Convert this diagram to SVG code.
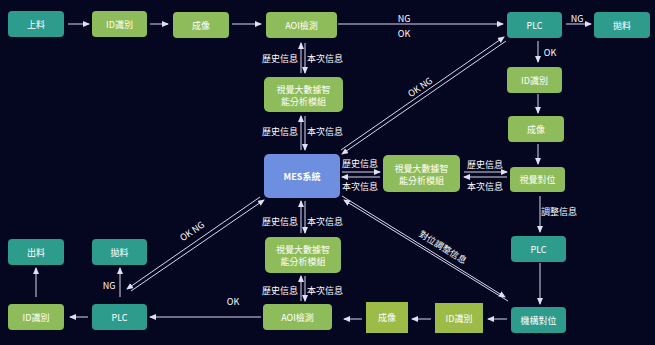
<svg xmlns="http://www.w3.org/2000/svg" width="655" height="345" viewBox="0 0 655 345">
<defs>
<marker id="ah" markerWidth="8" markerHeight="8" refX="6" refY="3" orient="auto" markerUnits="userSpaceOnUse">
<path d="M0,0 L7,3 L0,6 Z" fill="#e0e0f4"/>
</marker>
<style>
.teal{fill:#2e9c8d}
.green{fill:#8fbc5a}
.olive{fill:#9dbb47}
.blue{fill:#6e8fe0}
.t{font-family:"Noto Sans CJK TC","Open Sans",sans-serif;font-size:9px;fill:#ffffff;text-anchor:middle;dominant-baseline:central}
.lb{font-family:"Noto Sans CJK TC","Open Sans",sans-serif;font-size:9px;fill:#ffffff;text-anchor:middle;dominant-baseline:central}
.c line{stroke:#d8d8f0;stroke-width:1;fill:none}
.c .a{marker-end:url(#ah)}
</style>
</defs>
<rect width="655" height="345" fill="#05061f"/>

<g class="c" id="connectors">
<!-- top row -->
<line class="a" x1="68" y1="24" x2="89" y2="24"/>
<line class="a" x1="150" y1="24" x2="168" y2="24"/>
<line class="a" x1="232" y1="24" x2="261" y2="24"/>
<line class="a" x1="338" y1="24" x2="503" y2="24"/>
<line class="a" x1="566" y1="24" x2="591" y2="24"/>
<!-- right column -->
<line class="a" x1="538" y1="41" x2="538" y2="62"/>
<line class="a" x1="538" y1="94" x2="538" y2="113"/>
<line class="a" x1="538" y1="144" x2="538" y2="164"/>
<line class="a" x1="540" y1="196" x2="540" y2="232"/>
<line class="a" x1="540" y1="263" x2="540" y2="304"/>
<!-- bottom row -->
<line class="a" x1="507" y1="319" x2="488" y2="319"/>
<line class="a" x1="431" y1="319" x2="412" y2="319"/>
<line class="a" x1="362" y1="319" x2="344" y2="319"/>
<line class="a" x1="261" y1="317" x2="150" y2="317"/>
<line class="a" x1="88" y1="317" x2="70" y2="317"/>
<line class="a" x1="36" y1="297" x2="36" y2="268"/>
<line class="a" x1="120" y1="297" x2="120" y2="268"/>
<!-- vertical double arrows -->
<line class="a" x1="301" y1="73" x2="301" y2="43"/>
<line class="a" x1="305" y1="43" x2="305" y2="73"/>
<line class="a" x1="301" y1="150" x2="301" y2="116"/>
<line class="a" x1="305" y1="116" x2="305" y2="150"/>
<line class="a" x1="301" y1="233" x2="301" y2="201"/>
<line class="a" x1="305" y1="201" x2="305" y2="233"/>
<line class="a" x1="301" y1="301" x2="301" y2="276"/>
<line class="a" x1="305" y1="276" x2="305" y2="301"/>
<!-- horizontal double arrows -->
<line class="a" x1="342" y1="172" x2="380" y2="172"/>
<line class="a" x1="380" y1="177" x2="342" y2="177"/>
<line class="a" x1="464" y1="172" x2="507" y2="172"/>
<line class="a" x1="507" y1="177" x2="464" y2="177"/>
<!-- diagonals -->
<line class="a" x1="341" y1="150" x2="504" y2="37"/>
<line class="a" x1="506" y1="41" x2="342" y2="154"/>
<line class="a" x1="260" y1="197" x2="127" y2="289"/>
<line class="a" x1="131" y1="291" x2="264" y2="200"/>
<line class="a" x1="342" y1="196" x2="505" y2="297"/>
<line class="a" x1="508" y1="301" x2="344" y2="200"/>
</g>

<g id="labels">
<text class="lb" x="404" y="18">NG</text>
<text class="lb" x="404" y="33">OK</text>
<text class="lb" x="577" y="18">NG</text>
<text class="lb" x="550" y="52">OK</text>
<text class="lb" x="559" y="211">調整信息</text>
<text class="lb" x="233" y="301">OK</text>
<text class="lb" x="109" y="285">NG</text>
<text class="lb" x="280" y="58">歷史信息</text>
<text class="lb" x="325" y="58">本次信息</text>
<text class="lb" x="280" y="131">歷史信息</text>
<text class="lb" x="325" y="131">本次信息</text>
<text class="lb" x="280" y="221">歷史信息</text>
<text class="lb" x="325" y="221">本次信息</text>
<text class="lb" x="280" y="290">歷史信息</text>
<text class="lb" x="325" y="290">本次信息</text>
<text class="lb" x="360" y="163">歷史信息</text>
<text class="lb" x="360" y="186">本次信息</text>
<text class="lb" x="485" y="164">歷史信息</text>
<text class="lb" x="485" y="186">本次信息</text>
<text class="lb" x="420" y="87" transform="rotate(-34.6 420 87)">OK NG</text>
<text class="lb" x="192" y="231" transform="rotate(-34.5 192 231)">OK NG</text>
<text class="lb" x="443" y="247" transform="rotate(31.7 443 247)">對位調整信息</text>
</g>

<g id="n-shangliao"><rect class="teal" x="8" y="11" width="56" height="26" rx="4"/><text class="t" x="36" y="24">上料</text></g>
<g id="n-id1"><rect class="green" x="92" y="11" width="55" height="26" rx="4"/><text class="t" x="119.5" y="24">ID識別</text></g>
<g id="n-cx1"><rect class="green" x="173" y="12" width="56" height="26" rx="4"/><text class="t" x="201" y="25">成像</text></g>
<g id="n-aoi1"><rect class="green" x="266" y="12" width="71" height="26" rx="4"/><text class="t" x="301.5" y="25">AOI檢測</text></g>
<g id="n-plc1"><rect class="teal" x="507" y="12" width="55" height="26" rx="4"/><text class="t" x="534.5" y="25">PLC</text></g>
<g id="n-pao1"><rect class="teal" x="594" y="12" width="56" height="26" rx="4"/><text class="t" x="622" y="25">拋料</text></g>
<g id="n-id2"><rect class="green" x="507" y="67" width="55" height="26" rx="4"/><text class="t" x="534.5" y="80">ID識別</text></g>
<g id="n-cx2"><rect class="green" x="508" y="116" width="56" height="26" rx="4"/><text class="t" x="536" y="129">成像</text></g>
<g id="n-sjdw"><rect class="green" x="510" y="167" width="55" height="25" rx="4"/><text class="t" x="537.5" y="179.5">視覺對位</text></g>
<g id="n-plc2"><rect class="teal" x="511" y="236" width="55" height="26" rx="4"/><text class="t" x="538.5" y="249">PLC</text></g>
<g id="n-jgdw"><rect class="teal" x="511" y="307" width="55" height="26" rx="4"/><text class="t" x="538.5" y="320">機構對位</text></g>
<g id="n-id3"><rect class="olive" x="435" y="303" width="48" height="30"/><text class="t" x="459" y="318">ID識別</text></g>
<g id="n-cx3"><rect class="olive" x="366" y="302" width="42" height="31"/><text class="t" x="387" y="317.5">成像</text></g>
<g id="n-aoi2"><rect class="green" x="263" y="304" width="69" height="26" rx="4"/><text class="t" x="297.5" y="317">AOI檢測</text></g>
<g id="n-plc3"><rect class="teal" x="92" y="304" width="55" height="26" rx="4"/><text class="t" x="119.5" y="317">PLC</text></g>
<g id="n-id4"><rect class="green" x="8" y="304" width="56" height="26" rx="4"/><text class="t" x="36" y="317">ID識別</text></g>
<g id="n-chuliao"><rect class="teal" x="8" y="239" width="56" height="26" rx="4"/><text class="t" x="36" y="252">出料</text></g>
<g id="n-pao2"><rect class="teal" x="92" y="239" width="55" height="26" rx="4"/><text class="t" x="119.5" y="252">拋料</text></g>
<g id="n-mes"><rect class="blue" x="264" y="154" width="76" height="44" rx="5"/><text class="t" x="302" y="176" font-weight="bold">MES系統</text></g>
<g id="n-mod1"><rect class="green" x="264" y="77" width="79" height="35" rx="5"/><text class="t" x="303.5" y="89">視覺大數據智</text><text class="t" x="303.5" y="101">能分析模組</text></g>
<g id="n-mod2"><rect class="green" x="383" y="155" width="77" height="37" rx="5"/><text class="t" x="421.5" y="168">視覺大數據智</text><text class="t" x="421.5" y="180">能分析模組</text></g>
<g id="n-mod3"><rect class="green" x="265" y="237" width="76" height="36" rx="5"/><text class="t" x="303" y="249">視覺大數據智</text><text class="t" x="303" y="261">能分析模組</text></g>
</svg>
